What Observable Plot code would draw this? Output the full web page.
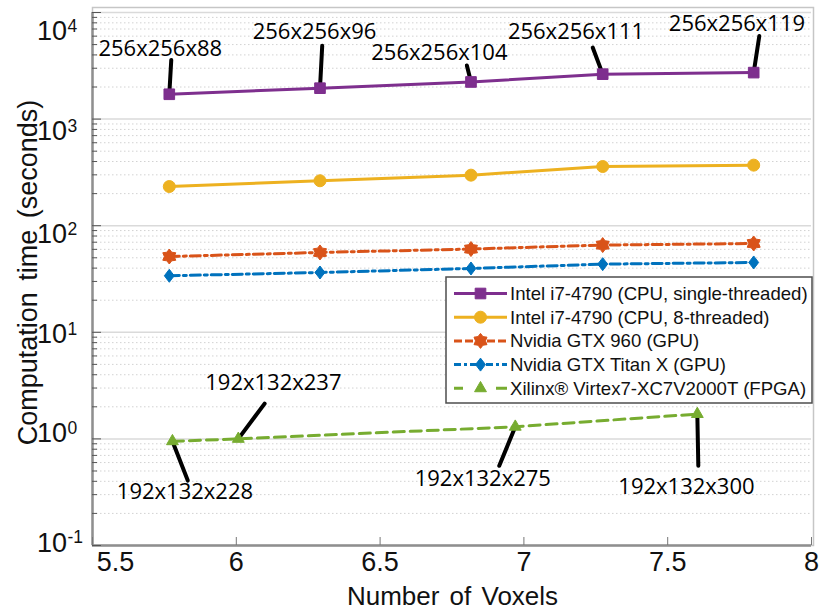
<!DOCTYPE html>
<html>
<head>
<meta charset="utf-8">
<script src="https://cdn.jsdelivr.net/npm/d3@7"></script>
<script src="https://cdn.jsdelivr.net/npm/@observablehq/plot@0.6"></script>
<style>
  body { margin: 0; background: #fff; }
  #chart { width: 820px; height: 612px; }
</style>
</head>
<body>
<div id="chart"></div>
<script>
// ---------- data ----------
const series = [
  "Intel i7-4790 (CPU, single-threaded)",
  "Intel i7-4790 (CPU, 8-threaded)",
  "Nvidia GTX 960 (GPU)",
  "Nvidia GTX Titan X (GPU)",
  "Xilinx® Virtex7-XC7V2000T (FPGA)"
];
const voxelsCPU = [5.767, 6.291, 6.816, 7.274, 7.799];   // millions of voxels
const voxelsFPGA = [5.778, 6.007, 6.970, 7.603];
const timeCPU1 = [1710, 1950, 2230, 2640, 2730];
const timeCPU8 = [233, 264, 298, 359, 370];
const timeGTX960 = [51.4, 56.1, 60.4, 65.8, 68.1];
const timeTitanX = [33.9, 36.4, 39.7, 43.6, 45.2];
const timeFPGA = [0.95, 1.0, 1.30, 1.71];
const labelsCPU = ["256x256x88", "256x256x96", "256x256x104", "256x256x111", "256x256x119"];
const labelsFPGA = ["192x132x228", "192x132x237", "192x132x275", "192x132x300"];
const yTicks = [0.1, 1, 10, 100, 1000, 10000];
const yExponents = ["-1", "0", "1", "2", "3", "4"];
const xTicks = [5.5, 6, 6.5, 7, 7.5, 8];

// ---------- layout (pixels) ----------
const colors = ["#7E2F8E", "#EDB120", "#D95319", "#0072BD", "#77AC30"];
const yLabelShift = [-2.5, -5.3, 2.3, 9, 12.4, 19];
const xLabelShift = [23, 0, 0, 0, 0, 0];
const labelOffCPU = [[-9, -45], [-5.5, -56], [-31.6, -29.3], [-26.7, -42.6], [-16.7, -49]];
const labelOffFPGA = [[12.5, 51], [35.1, -55.6], [-32.5, 52], [-10.9, 72.7]];
const leaderCPU = [[34.4, 3.3], [42.4, 3], [17, -14], [28.4, -20.6], [37.1, 8.7]];   // [length, rotate]
const leaderFPGA = [[42.2, 158.7], [44, 36.7], [42.2, 202.3], [51.7, 178.9]];

// ---------- symbols ----------
const hexagram = {draw(ctx, size) {
  const r = Math.sqrt(size / Math.PI), R = r * 1.25, q = R * 0.66;
  for (let k = 0; k < 12; k++) {
    const a = k * Math.PI / 6 - Math.PI / 2, rr = k % 2 ? q : R;
    const px = rr * Math.cos(a), py = rr * Math.sin(a);
    if (k) ctx.lineTo(px, py); else ctx.moveTo(px, py);
  }
  ctx.closePath();
}};
const diamond = {draw(ctx, size) {
  const r = Math.sqrt(size / Math.PI);
  ctx.moveTo(0, -1.25 * r); ctx.lineTo(0.95 * r, 0); ctx.lineTo(0, 1.25 * r); ctx.lineTo(-0.95 * r, 0); ctx.closePath();
}};
const symbols = [d3.symbolSquare, d3.symbolCircle, hexagram, diamond, d3.symbolTriangle];
const radii = [6, 6, 6, 5.2, 4.4];
const dashes = [null, null, "10,4,3,4", "10,4,3,4", "11,6"];
const legendDashes = [null, null, "8,3,8,3", "7,3,3,3", "9,33,11"];
const stick = {draw(ctx, l) { ctx.moveTo(0, 0); ctx.lineTo(0, -l); }};

const rows = (xs, ys, labels) => xs.map((x, i) => ({x, y: ys[i], label: labels ? labels[i] : null}));
const data = [
  rows(voxelsCPU, timeCPU1, labelsCPU),
  rows(voxelsCPU, timeCPU8),
  rows(voxelsCPU, timeGTX960),
  rows(voxelsCPU, timeTitanX),
  rows(voxelsFPGA, timeFPGA, labelsFPGA)
];

const minorTicks = [];
for (let e = -1; e < 4; e++) for (let k = 2; k <= 9; k++) minorTicks.push(+(k * Math.pow(10, e)).toPrecision(3));

const sans = "'Liberation Sans', Arial, sans-serif";
const labelFont = "'Open Sans', 'Noto Sans', sans-serif";

const marks = [
  Plot.gridY(minorTicks, {stroke: "#d2d2d2", strokeOpacity: 1, strokeWidth: 1, strokeDasharray: "1.5,2.5"}),
  Plot.gridY(yTicks, {stroke: "#dadada", strokeOpacity: 1, strokeWidth: 1.5}),
  Plot.frame({stroke: "#c6c6c6", strokeWidth: 1.5, insetTop: -5, insetRight: -2}),
  Plot.ruleX([5.5], {stroke: "#8f8f8f", strokeWidth: 2.5}),
  Plot.ruleY([0.1], {stroke: "#8f8f8f", strokeWidth: 2.5}),
  Plot.axisY(minorTicks, {tickSize: -5, tickFormat: () => "", label: null, stroke: "#555"}),
  Plot.axisY(yTicks, {tickSize: -9, tickFormat: () => "", label: null, stroke: "#555"}),
  Plot.axisX(xTicks, {tickSize: -8, tickFormat: () => "", label: null, stroke: "#777"}),
  ...yTicks.map((t, i) => Plot.text([t], {y: d => d, text: () => "10", frameAnchor: "left", dx: -55.5, dy: yLabelShift[i],
      textAnchor: "start", fontSize: 27, fontFamily: sans, fill: "#111"})),
  ...yTicks.map((t, i) => Plot.text([t], {y: d => d, text: () => yExponents[i], frameAnchor: "left", dx: -25, dy: yLabelShift[i] - 5.5,
      textAnchor: "start", fontSize: 17.5, fontFamily: sans, fill: "#111"})),
  ...xTicks.map((t, i) => Plot.text([t], {x: d => d, text: d => String(d), frameAnchor: "bottom", dy: 6.7, dx: xLabelShift[i],
      lineAnchor: "top", fontSize: 27, fontFamily: sans, fill: "#111"})),
  // leader lines
  Plot.vector(data[0], {x: "x", y: "y", length: (d, i) => leaderCPU[i][0], rotate: (d, i) => leaderCPU[i][1],
      anchor: "start", shape: stick, stroke: "black", strokeWidth: 4}),
  Plot.vector(data[4], {x: "x", y: "y", length: (d, i) => leaderFPGA[i][0], rotate: (d, i) => leaderFPGA[i][1],
      anchor: "start", shape: stick, stroke: "black", strokeWidth: 4}),
];
// series lines and markers
data.forEach((rs, i) => {
  marks.push(Plot.line(rs, {x: "x", y: "y", stroke: colors[i], strokeWidth: 3, strokeDasharray: dashes[i]}));
});
data.forEach((rs, i) => {
  marks.push(Plot.dot(rs, {x: "x", y: "y", symbol: symbols[i], r: radii[i], fill: colors[i], stroke: colors[i], strokeWidth: 1}));
});
// annotation labels
data[0].forEach((d, i) => marks.push(Plot.text([d], {x: "x", y: "y", text: "label", dx: labelOffCPU[i][0], dy: labelOffCPU[i][1],
    fontSize: 22, fontFamily: labelFont, fill: "#000"})));
data[4].forEach((d, i) => marks.push(Plot.text([d], {x: "x", y: "y", text: "label", dx: labelOffFPGA[i][0], dy: labelOffFPGA[i][1],
    fontSize: 22, fontFamily: labelFont, fill: "#000"})));

const plot = Plot.plot({
  width: 820, height: 612,
  marginLeft: 92, marginRight: 9, marginTop: 12, marginBottom: 67,
  style: {fontFamily: sans, background: "white", overflow: "visible"},
  x: {domain: [5.5, 8]},
  y: {type: "log", domain: [0.1, 10000]},
  length: {type: "linear", domain: [0, 100], range: [0, 100]},
  marks
});

// titles and legend
const svg = d3.select(plot);
svg.append("text").attr("x", 452.5).attr("y", 605).attr("text-anchor", "middle")
  .attr("font-family", sans).attr("font-size", 26).attr("fill", "#111").attr("word-spacing", 3).text("Number of Voxels");
svg.append("text").attr("transform", "translate(36.5,272.5) rotate(-90)").attr("text-anchor", "middle")
  .attr("font-family", sans).attr("font-size", 27).attr("fill", "#111").attr("word-spacing", 4).text("Computation time (seconds)");

const lg = svg.append("g");
lg.append("rect").attr("x", 446).attr("y", 277).attr("width", 366).attr("height", 126)
  .attr("fill", "white").attr("stroke", "#4d4d4d").attr("stroke-width", 1.5);
series.forEach((name, i) => {
  const y = 293.5 + i * 23.7;
  lg.append("line").attr("x1", 454).attr("x2", 507).attr("y1", y).attr("y2", y)
    .attr("stroke", colors[i]).attr("stroke-width", 3).attr("stroke-dasharray", legendDashes[i]);
  lg.append("path").attr("d", d3.symbol(symbols[i], Math.PI * radii[i] * radii[i])())
    .attr("transform", `translate(480.5,${y})`).attr("fill", colors[i]).attr("stroke", colors[i]);
  lg.append("text").attr("x", 510).attr("y", y).attr("dy", "0.35em").attr("text-anchor", "start")
    .attr("font-family", sans).attr("font-size", 18.6).attr("fill", "#111").text(name);
});

document.getElementById("chart").appendChild(plot);
</script>
</body>
</html>
